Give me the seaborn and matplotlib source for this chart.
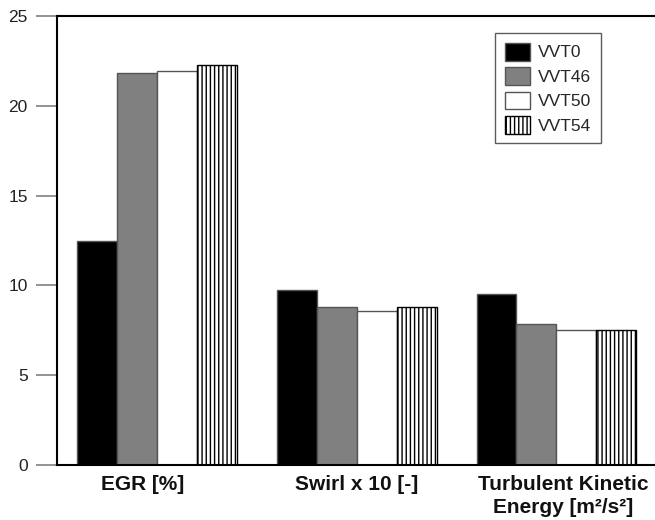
import pandas as pd
import matplotlib
matplotlib.use("Agg")
import matplotlib.pyplot as plt
import matplotlib.transforms as mtransforms
import seaborn as sns

categories = ["EGR [%]", "Swirl x 10 [-]", "Turbulent Kinetic\nEnergy [m²/s²]"]
cases = ["VVT0", "VVT46", "VVT50", "VVT54"]
vvt0 = [12.5, 9.75, 9.5]
vvt46 = [21.85, 8.8, 7.85]
vvt50 = [21.95, 8.6, 7.5]
vvt54 = [22.3, 8.8, 7.5]

rows = []
for case, vals in zip(cases, [vvt0, vvt46, vvt50, vvt54]):
    for cat, v in zip(categories, vals):
        rows.append({"quantity": cat, "case": case, "value": v})
df = pd.DataFrame(rows)

sns.set_style("ticks")
plt.rcParams["font.family"] = ["Liberation Sans", "DejaVu Sans"]
plt.rcParams["hatch.linewidth"] = 1.0

fig = plt.figure(figsize=(6.55, 5.2), dpi=100)
ax = fig.add_axes([0.087, 0.106, 0.915, 0.863])

colors = ["black", "#808080", "white", "white"]
sns.barplot(data=df, x="quantity", y="value", hue="case", order=categories,
            hue_order=cases, palette=colors, ax=ax, legend=False,
            edgecolor="#555555", linewidth=1, saturation=1)

# hatched bars for VVT54
for bar in ax.containers[3]:
    bar.set_hatch("||||")
    bar.set_edgecolor("black")

ax.set_ylim(0, 25)
ax.set_xlim(-0.5, 2.5)
ax.set_yticks([0, 5, 10, 15, 20, 25])
ax.set_xlabel("")
ax.set_ylabel("")

for s in ["left", "top", "bottom"]:
    ax.spines[s].set_visible(True)
    ax.spines[s].set_color("black")
    ax.spines[s].set_linewidth(1.5)
ax.spines["right"].set_visible(False)

ax.tick_params(axis="y", direction="out", length=15, width=1.2, color="#808080",
               labelsize=12.5, pad=6, labelcolor="#222222")
ax.tick_params(axis="x", length=0, labelsize=15, pad=7, labelcolor="#111111")
for lbl in ax.get_xticklabels():
    lbl.set_fontweight("bold")
    lbl.set_linespacing(1.3)

# labels sit slightly off their group centres in the original
shifts = [-0.14, 0.0, 0.07]
for lbl, dx in zip(ax.get_xticklabels(), shifts):
    lbl.set_transform(lbl.get_transform() + mtransforms.ScaledTranslation(dx, 0, fig.dpi_scale_trans))

leg = ax.legend(ax.containers, cases, loc="upper right",
                bbox_to_anchor=(0.908, 0.962), fontsize=12.5, frameon=True,
                fancybox=False, edgecolor="#333333", handlelength=1.45,
                handleheight=1.2, labelspacing=0.38, borderpad=0.55,
                handletextpad=0.5, borderaxespad=0)
leg.get_frame().set_linewidth(1.0)

fig.savefig("out.png", dpi=100)
plt.close(fig)
